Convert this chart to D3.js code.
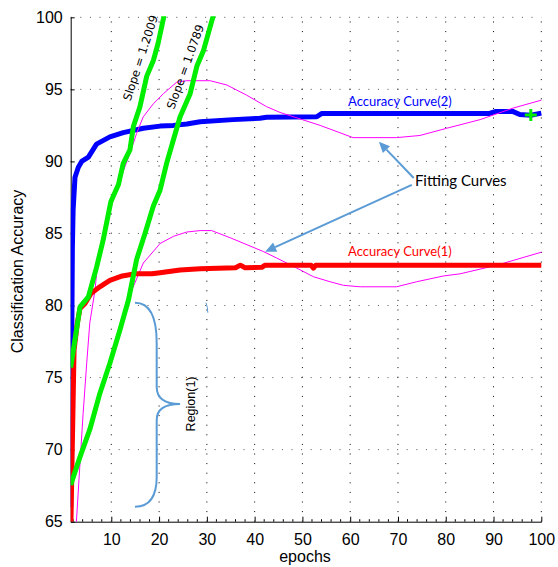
<!DOCTYPE html>
<html>
<head>
<meta charset="utf-8">
<script src="https://cdn.jsdelivr.net/npm/d3@7"></script>
<style>
  html, body { margin: 0; padding: 0; background: #fff; }
  svg { display: block; }
</style>
</head>
<body>
<svg id="chart" width="558" height="567"></svg>
<script>
// ---------- data ----------
const xTicks = [10, 20, 30, 40, 50, 60, 70, 80, 90, 100];
const yTicks = [65, 70, 75, 80, 85, 90, 95, 100];

// Accuracy Curve(2) - blue
const blueX = [1.5, 1.75, 1.85, 2.0, 2.4, 3.1, 3.8, 5.2, 6.9, 9.7, 12.5, 16.7, 20.2, 23, 25.8, 28.6, 35.5, 41.1, 42.5, 53, 54, 89, 90.5, 94, 95.5, 97.8, 100];
const blueY = [66, 79, 84, 86.6, 88.9, 89.6, 90.0, 90.3, 91.2, 91.7, 92.0, 92.3, 92.45, 92.5, 92.6, 92.75, 92.9, 93.0, 93.06, 93.1, 93.32, 93.32, 93.47, 93.47, 93.25, 93.2, 93.35];

// Accuracy Curve(1) - red
const redX = [1.55, 2.2, 2.9, 3.45, 4.5, 5.8, 7.6, 9.7, 12.3, 15, 18.5, 20.2, 24.4, 28.6, 36, 37, 38, 41.5, 42.2, 51.8, 52.3, 52.8, 100];
const redY = [65, 76.9, 78.8, 79.8, 80.15, 80.85, 81.3, 81.75, 82.05, 82.2, 82.2, 82.28, 82.47, 82.55, 82.62, 82.8, 82.62, 82.65, 82.8, 82.8, 82.6, 82.8, 82.8];

// Slope line, 1.2009 - green
const g1X = [1.5, 3.45, 5.2, 6.2, 6.95, 8.3, 9.9, 11.5, 12.5, 13.9, 14.6, 16, 17.4, 18.8, 19.8, 20.9, 21.1];
const g1Y = [75.7, 79.9, 80.6, 81.8, 82.7, 84.55, 87.2, 88.4, 89.87, 90.8, 92.4, 93.8, 95.9, 97.0, 98.2, 99.9, 100.3];

// Slope line, 1.0789 - green
const g2X = [1.5, 3.45, 5.5, 7.6, 9.7, 11.8, 13.6, 15.3, 17.05, 18.8, 20.2, 21.6, 23, 24.4, 26.5, 27.9, 29.3, 30.7, 31.5];
const g2Y = [67.55, 69.5, 71.4, 73.9, 76.0, 78.3, 80.4, 83.2, 85.0, 86.9, 88.0, 89.9, 91.5, 93.1, 94.7, 96.6, 97.7, 99.35, 100.3];

// Fitting curve of curve (2) - magenta
const m2X = [2.6, 3.45, 4.1, 4.85, 5.5, 6.6, 7.3, 9.7, 11.8, 13.9, 15.3, 16.7, 18.8, 20.9, 23.7, 25.8, 30.7, 34.2, 38.3, 42.5, 45.3, 53.7, 60.6, 69.7, 74.6, 80.2, 87.2, 94.1, 100];
const m2Y = [64.5, 69.1, 72.5, 76.0, 78.8, 81.1, 83.6, 86.6, 88.7, 90.56, 91.95, 93.1, 94.0, 94.7, 95.5, 95.6, 95.6, 95.3, 94.6, 93.8, 93.4, 92.5, 91.65, 91.65, 91.8, 92.3, 92.9, 93.7, 94.25];

// Fitting curve of curve (1) - magenta
const m1X = [1.5, 3.45, 5.5, 7.6, 9.7, 11.8, 13.7, 16.7, 20.2, 23, 25.8, 28.6, 31, 34.9, 41.8, 44.6, 48.8, 52.3, 55.8, 58.6, 62.1, 69.7, 73.9, 79.5, 83.0, 90.7, 100];
const m1Y = [67.3, 69.3, 71.2, 73.7, 75.8, 78.1, 80.6, 82.95, 84.3, 84.8, 85.1, 85.2, 85.2, 84.7, 83.75, 83.3, 82.6, 82.0, 81.65, 81.4, 81.3, 81.3, 81.65, 82.05, 82.2, 82.8, 83.7];

// final-point marker
const markerX = [97.8];
const markerY = [93.22];

// ---------- layout ----------
const svg = d3.select("#chart");
const x = d3.scaleLinear().domain([1.5, 100]).range([70.7, 541.3]);
const y = d3.scaleLinear().domain([65, 100]).range([521.7, 17.3]);
const X0 = x.range()[0], X1 = x.range()[1], Y0 = y.range()[0], Y1 = y.range()[1];

svg.append("defs").append("clipPath").attr("id", "plotclip")
  .append("rect").attr("x", X0).attr("y", Y1 - 1).attr("width", X1 - X0 + 3).attr("height", Y0 - Y1 + 1);

// grid
const grid = svg.append("g");
grid.selectAll("line.vg").data(xTicks).join("line")
  .attr("x1", d => x(d)).attr("x2", d => x(d)).attr("y1", Y0).attr("y2", Y1)
  .attr("stroke", "#000").attr("stroke-width", 1).attr("stroke-dasharray", "1,8.6");
grid.selectAll("line.hg").data(yTicks.filter(d => d > 65)).join("line")
  .attr("x1", X0).attr("x2", X1).attr("y1", d => y(d)).attr("y2", d => y(d))
  .attr("stroke", "#555").attr("stroke-width", 1).attr("stroke-dasharray", "1,8.6");

// axes
const xAxis = d3.axisBottom(x).tickValues(xTicks).tickSizeInner(-5).tickSizeOuter(0).tickPadding(12);
const gx = svg.append("g").attr("transform", `translate(0,${Y0})`).call(xAxis);
gx.select(".domain").attr("stroke", "#000");
gx.selectAll("text").attr("font-family", "Liberation Sans, Arial, sans-serif").attr("font-size", 16).attr("fill", "#000");
// minor ticks
const minor = d3.range(2, 100, 2).filter(d => d % 10 !== 0);
gx.selectAll("line.minor").data(minor).join("line").attr("class", "minor")
  .attr("x1", d => x(d)).attr("x2", d => x(d)).attr("y1", 0).attr("y2", -2.5)
  .attr("stroke", "#000");

const yAxis = d3.axisLeft(y).tickValues(yTicks).tickSizeInner(-4).tickSizeOuter(0).tickPadding(8);
const gy = svg.append("g").attr("transform", `translate(${X0},0)`).call(yAxis);
gy.select(".domain").attr("stroke", "#000");
gy.selectAll("text").attr("font-family", "Liberation Sans, Arial, sans-serif").attr("font-size", 16).attr("fill", "#000");

// axis titles
svg.append("text").attr("x", 305).attr("y", 562).attr("text-anchor", "middle")
  .attr("font-family", "Liberation Sans, Arial, sans-serif").attr("font-size", 16).text("epochs");
svg.append("text").attr("transform", `translate(23,${(Y0 + Y1) / 2 + 2}) rotate(-90)`).attr("text-anchor", "middle")
  .attr("font-family", "Liberation Sans, Arial, sans-serif").attr("font-size", 16).text("Classification Accuracy");

// series
const line = d3.line().x(d => x(d[0])).y(d => y(d[1]));
const zip = (a, b) => a.map((v, i) => [v, b[i]]);
const plot = svg.append("g").attr("clip-path", "url(#plotclip)");

plot.append("path").attr("d", line(zip(blueX, blueY))).attr("fill", "none")
  .attr("stroke", "#0000ff").attr("stroke-width", 5).attr("stroke-linejoin", "round");
plot.append("path").attr("d", line(zip(m2X, m2Y))).attr("fill", "none")
  .attr("stroke", "#ff00ff").attr("stroke-width", 1);
plot.append("path").attr("d", line(zip(m1X, m1Y))).attr("fill", "none")
  .attr("stroke", "#ff00ff").attr("stroke-width", 1);
plot.append("path").attr("d", line(zip(redX, redY))).attr("fill", "none")
  .attr("stroke", "#ff0000").attr("stroke-width", 5).attr("stroke-linejoin", "round");
plot.append("path").attr("d", line(zip(g1X, g1Y))).attr("fill", "none")
  .attr("stroke", "#00ee00").attr("stroke-width", 5).attr("stroke-linejoin", "round");
plot.append("path").attr("d", line(zip(g2X, g2Y))).attr("fill", "none")
  .attr("stroke", "#00ee00").attr("stroke-width", 5).attr("stroke-linejoin", "round");

// + marker
const mk = svg.append("g");
zip(markerX, markerY).forEach(([mx, my]) => {
  mk.append("line").attr("x1", x(mx) - 6).attr("x2", x(mx) + 6).attr("y1", y(my)).attr("y2", y(my))
    .attr("stroke", "#00ee00").attr("stroke-width", 3);
  mk.append("line").attr("x1", x(mx)).attr("x2", x(mx)).attr("y1", y(my) - 6).attr("y2", y(my) + 6)
    .attr("stroke", "#00ee00").attr("stroke-width", 3);
});

// ---------- annotations (positions in data units) ----------
const annBlue = "#5b9bd5";
const slopeFont = "DejaVu Sans, sans-serif";
svg.append("text").attr("transform", `translate(${x(16.2)},${y(97.17)}) rotate(-72)`)
  .attr("text-anchor", "middle").attr("dominant-baseline", "middle")
  .attr("font-family", slopeFont).attr("font-size", 11.5).text("Slope = 1.2009");
svg.append("text").attr("transform", `translate(${x(25.6)},${y(96.55)}) rotate(-70)`)
  .attr("text-anchor", "middle").attr("dominant-baseline", "middle")
  .attr("font-family", slopeFont).attr("font-size", 11.5).text("Slope = 1.0789");

const labFont = "Lato, 'Open Sans', sans-serif";
svg.append("text").attr("x", x(70.4)).attr("y", y(94.08)).attr("text-anchor", "middle").attr("dominant-baseline", "middle")
  .attr("font-family", labFont).attr("font-size", 13).attr("fill", "#0000ff").text("Accuracy Curve(2)");
svg.append("text").attr("x", x(70.4)).attr("y", y(83.67)).attr("text-anchor", "middle").attr("dominant-baseline", "middle")
  .attr("font-family", labFont).attr("font-size", 13).attr("fill", "#ff0000").text("Accuracy Curve(1)");
svg.append("text").attr("x", x(73.55)).attr("y", y(88.57)).attr("dominant-baseline", "middle")
  .attr("font-family", labFont).attr("font-size", 15).attr("fill", "#000").text("Fitting Curves");

// arrows
const arrows = [
  { from: [73.3, 88.85], to: [66.0, 91.37] },
  { from: [72.9, 88.37], to: [42.2, 83.74] }
];
arrows.forEach(a => {
  const x1 = x(a.from[0]), y1 = y(a.from[1]), x2 = x(a.to[0]), y2 = y(a.to[1]);
  const ang = Math.atan2(y2 - y1, x2 - x1);
  const L = 11, W = 5;
  const bx = x2 - L * Math.cos(ang), by = y2 - L * Math.sin(ang);
  svg.append("line").attr("x1", x1).attr("y1", y1).attr("x2", bx).attr("y2", by)
    .attr("stroke", annBlue).attr("stroke-width", 2);
  const p = [[x2, y2],
    [bx + W * Math.sin(ang), by - W * Math.cos(ang)],
    [bx - W * Math.sin(ang), by + W * Math.cos(ang)]];
  svg.append("path").attr("d", "M" + p.map(q => q.join(",")).join("L") + "Z").attr("fill", annBlue);
});

// curly brace for Region(1)
const bxL = 14.96, bxM = 19.5, bxT = 24.4;
const byTop = 80.2, byA = 77.4, byB = 74.37, byTip = 73.17, byC = 72.06, byD = 68.12, byBot = 66.04;
const bracePath = d3.path();
bracePath.moveTo(x(bxL), y(byTop));
bracePath.quadraticCurveTo(x(bxM), y(byTop), x(bxM), y(byA));
bracePath.lineTo(x(bxM), y(byB));
bracePath.quadraticCurveTo(x(bxM), y(byTip), x(bxT), y(byTip));
bracePath.quadraticCurveTo(x(bxM), y(byTip), x(bxM), y(byC));
bracePath.lineTo(x(bxM), y(byD));
bracePath.quadraticCurveTo(x(bxM), y(byBot), x(bxL), y(byBot));
svg.append("path").attr("d", bracePath.toString()).attr("fill", "none")
  .attr("stroke", annBlue).attr("stroke-width", 2);
svg.append("text").attr("transform", `translate(${x(26.9)},${y(73.17)}) rotate(-90)`)
  .attr("text-anchor", "middle").attr("dominant-baseline", "middle")
  .attr("font-family", "Liberation Sans, Arial, sans-serif").attr("font-size", 12.5).text("Region(1)");

// small stray mark near epoch 30
svg.append("path")
  .attr("d", `M${x(29.8)},${y(80.2)} Q${x(30.2)},${y(79.9)} ${x(30.2)},${y(79.5)}`)
  .attr("fill", "none").attr("stroke", annBlue).attr("stroke-width", 1);
</script>
</body>
</html>
